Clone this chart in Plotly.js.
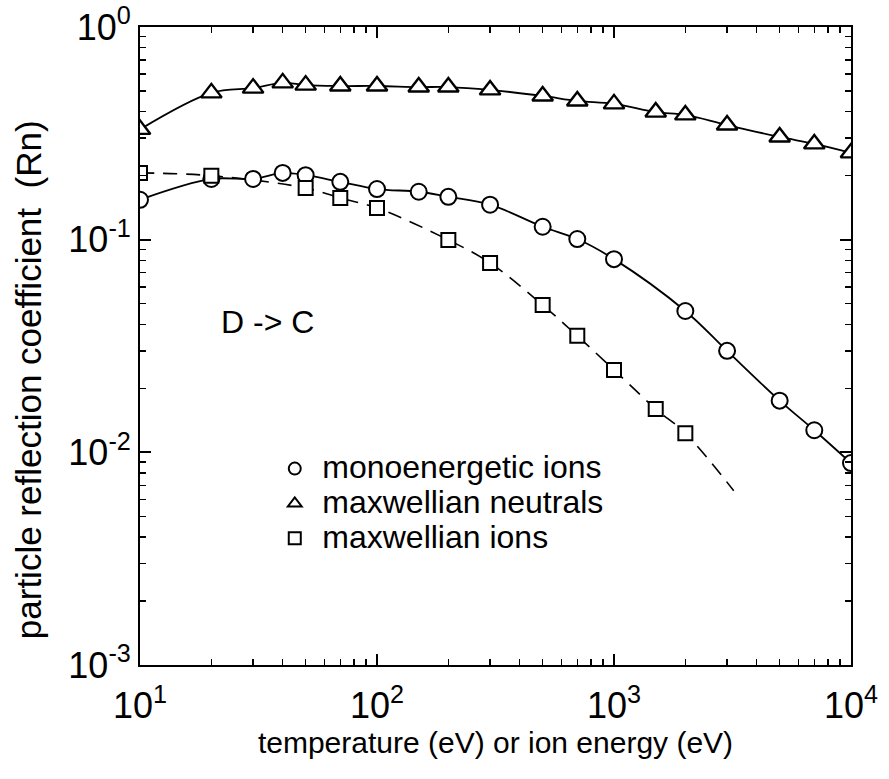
<!DOCTYPE html>
<html>
<head>
<meta charset="utf-8">
<script src="https://cdn.plot.ly/plotly-3.0.1.min.js"></script>
<style>html,body{margin:0;padding:0;background:#fff;}</style>
</head>
<body>
<div id="chart" style="width:889px;height:779px;"></div>
<script>
// Data
const neutralsE = [10,20,30,40,50,70,100,150,200,300,500,700,1000,1500,2000,3000,5000,7000,10000];
const neutralsR = [0.33,0.49,0.516,0.546,0.533,0.528,0.528,0.522,0.522,0.506,0.474,0.449,0.435,0.398,0.386,0.346,0.304,0.282,0.256];

const monoE = [10,20,30,40,50,70,100,150,200,300,500,700,1000,2000,3000,5000,7000,10000];
const monoR = [0.154,0.193,0.193,0.206,0.201,0.187,0.173,0.168,0.159,0.146,0.115,0.1007,0.081,0.0462,0.030,0.0175,0.0127,0.0089];

const maxIonsE = [10,20,50,70,100,200,300,500,700,1000,1500,2000];
const maxIonsR = [0.206,0.2,0.175,0.157,0.141,0.0997,0.0777,0.0493,0.0353,0.0244,0.016,0.0123];
// end of the dashed fit curve beyond the last square
const maxIonsTailE = [3200];
const maxIonsTailR = [0.0066];

const xTickVals = [10,100,1000,10000];
const xTickText = ['10<sup>1</sup>','10<sup>2</sup>','10<sup>3</sup>','10<sup>4</sup>'];
const yTickVals = [0.001,0.01,0.1,1];
const yTickText = ['10<sup>-3</sup>','10<sup>-2</sup>','10<sup>-1</sup>','10<sup>0</sup>'];

const seriesNames = ['monoenergetic ions','maxwellian neutrals','maxwellian ions'];
const annotationText = 'D -> C';
const xTitle = 'temperature (eV) or ion energy (eV)';
const yTitle = 'particle reflection coefficient&nbsp;&nbsp;(Rn)';

function minorVals(lo, hi){
  const v=[];
  for(let d=lo; d<hi; d++){ for(let k=2;k<=9;k++){ v.push(k*Math.pow(10,d)); } }
  return v;
}

const FONT = 'Liberation Sans, Arial, Helvetica, sans-serif';
const mline = {color:'black', width:2};
const legName = s => '<span style="font-size:32px">' + s + '</span>';

const traces = [
  // fitted curves (drawn on the overlay x axis that carries the inside ticks)
  {x: neutralsE, y: neutralsR, xaxis:'x2', mode:'lines', line:{color:'black', width:1.8, shape:'spline'}, showlegend:false, hoverinfo:'skip'},
  {x: monoE, y: monoR, xaxis:'x2', mode:'lines', line:{color:'black', width:1.8, shape:'spline'}, showlegend:false, hoverinfo:'skip'},
  {x: maxIonsE.concat(maxIonsTailE), y: maxIonsR.concat(maxIonsTailR), xaxis:'x2', mode:'lines', line:{color:'black', width:1.6, dash:'14px,9px', shape:'spline'}, showlegend:false, hoverinfo:'skip'},
  // markers
  {x: monoE, y: monoR, xaxis:'x2', mode:'markers', name: seriesNames[0], showlegend:false,
   marker:{symbol:'circle', size:16, color:'white', line:mline}},
  {x: maxIonsE, y: maxIonsR, xaxis:'x2', mode:'markers', name: seriesNames[2], showlegend:false,
   marker:{symbol:'square', size:14, color:'white', line:mline}},
  {x: neutralsE, y: neutralsR, xaxis:'x2', mode:'markers', name: seriesNames[1], showlegend:false,
   marker:{symbol:'triangle-up', size:18, color:'white', line:{color:'black', width:2.4}}},
  // legend entries
  {x:[null], y:[null], mode:'markers', name: legName(seriesNames[0]), showlegend:true,
   marker:{symbol:'circle', size:11, color:'white', line:mline}},
  {x:[null], y:[null], mode:'markers', name: legName(seriesNames[1]), showlegend:true,
   marker:{symbol:'triangle-up', size:11, color:'white', line:mline}},
  {x:[null], y:[null], mode:'markers', name: legName(seriesNames[2]), showlegend:true,
   marker:{symbol:'square', size:11, color:'white', line:mline}}
];

const tickFont = {family:FONT, size:36, color:'black'};

const layout = {
  width:889, height:779,
  margin:{l:140, r:38, t:27, b:114},
  paper_bgcolor:'white', plot_bgcolor:'white',
  font:{family:FONT, color:'black'},
  showlegend:true,
  legend:{x:0.179, y:0.343, xanchor:'left', yanchor:'top', bgcolor:'rgba(0,0,0,0)',
    font:{family:FONT, size:24.5, color:'black'}, itemsizing:'constant', itemwidth:45, tracegroupgap:0},
  // labelled x axis: invisible outside ticks only push the labels down
  xaxis: {
    type:'log', range:[1,4], showline:true, linecolor:'black', linewidth:2, mirror:true,
    ticks:'outside', ticklen:8, tickcolor:'rgba(0,0,0,0)', tickmode:'array',
    tickvals:xTickVals, ticktext:xTickText, tickfont:tickFont,
    showgrid:false, zeroline:false,
    title:{text:xTitle, standoff:5, font:{family:FONT, size:30, color:'black'}}
  },
  // overlay x axis carrying the inside major/minor ticks (bottom and top)
  xaxis2: {
    type:'log', range:[1,4], overlaying:'x', anchor:'y', side:'bottom',
    showline:false, mirror:'ticks', ticks:'inside', ticklen:11, tickwidth:2, tickcolor:'black',
    tickmode:'array', tickvals:xTickVals, showticklabels:false, showgrid:false, zeroline:false,
    minor:{tickmode:'array', tickvals:minorVals(1,4), ticks:'inside', ticklen:6, tickwidth:1.5, tickcolor:'black', showgrid:false}
  },
  yaxis: {
    type:'log', range:[-3,0], showline:true, linecolor:'black', linewidth:2, mirror:'ticks',
    ticks:'inside', ticklen:11, tickwidth:2, tickcolor:'black', tickmode:'array',
    tickvals:yTickVals, ticktext:yTickText, tickfont:tickFont,
    showgrid:false, zeroline:false,
    minor:{tickmode:'array', tickvals:minorVals(-3,0), ticks:'inside', ticklen:6, tickwidth:1.5, tickcolor:'black', showgrid:false}
  },
  annotations:[
    {xref:'paper', yref:'paper', x:0.18, y:0.537, xanchor:'center', yanchor:'middle', text:annotationText, showarrow:false,
     font:{family:FONT, size:32, color:'black'}},
    {xref:'paper', yref:'paper', x:-0.157, y:0.447, xanchor:'center', yanchor:'middle', textangle:-90,
     text:yTitle, showarrow:false, font:{family:FONT, size:35, color:'black'}}
  ]
};

Plotly.newPlot('chart', traces, layout, {displayModeBar:false, staticPlot:true});
</script>
</body>
</html>
